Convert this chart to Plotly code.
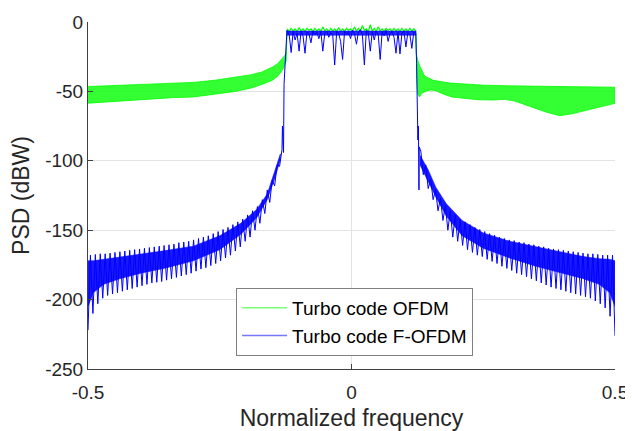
import numpy as np
import plotly.graph_objects as go

# ---------------- data ----------------
# Turbo code OFDM (green): out-of-band envelope readings (dBW)
green_left_f = [-0.5, -0.46, -0.42, -0.38, -0.34, -0.30, -0.26, -0.22, -0.19, -0.17, -0.15, -0.14, -0.13, -0.124, -0.1225]
green_left_top = [-46.5, -46, -45.5, -45, -44.5, -43.5, -42, -40, -38, -36, -32.5, -30, -26, -23, -6]
green_left_bot = [-58.5, -57.5, -56.5, -55.5, -54.5, -54, -52, -50, -47.5, -45, -42, -39, -34, -28, -9]

green_right_top_f = [0.1222, 0.123, 0.126, 0.130, 0.139, 0.155, 0.187, 0.25, 0.30, 0.40, 0.5]
green_right_top = [-6, -23, -28, -32, -39, -42, -44, -45.5, -46, -46.5, -47]
green_right_bot_f = [0.1222, 0.1235, 0.1245, 0.126, 0.129, 0.133, 0.14, 0.15, 0.16, 0.175, 0.19, 0.21, 0.24, 0.27,
                     0.29, 0.31, 0.34, 0.37, 0.395, 0.42, 0.45, 0.5]
green_right_bot = [-9, -28, -45, -52, -54, -51.5, -50, -49, -49.5, -52, -54, -55, -56, -56.2,
                   -55.7, -57, -61, -65, -67.5, -66, -63, -58.6]

# in-band PSD, f from -0.122 to 0.122
green_pass = [-5, -7, -4.5, -6.5, -5, -7, -4, -6.5, -5, -7, -4.5, -6, -5, -7, -4.5, -6.5, -5, -7, -3.5, -6.5,
              -5, -7, -4.5, -6.5, -5, -7, -4, -6.5, -5, -7, -4.5, -6, -5, -7, -3.5, -6.5, -4.5, -7, -2.5, -6,
              -5, -7, -2, -6.5, -4.5, -7, -3.5, -6.5, -5, -7, -4.5, -6, -5, -7, -4.5, -6.5, -5, -7, -4.5, -6.5,
              -5, -7, -4.5, -6.5, -5, -6.5]
blue_pass = [-6.5, -9, -22, -7, -13, -8, -21, -6.5, -10, -22.5, -7, -8.5, -15, -6.5, -9, -7.5, -12, -7, -21, -8,
             -6.5, -11, -7.5, -9, -31, -7, -8, -14, -27, -6.5, -9, -7, -12, -6, -8.5, -16, -7, -5.5, -9, -31,
             -6, -8, -21, -7, -13, -6.5, -9, -27, -7, -10, -6, -14, -8, -7, -11, -22.5, -7, -23, -8, -6.5,
             -18, -7.5, -9, -19, -7, -8]
blue_pass_body_f = [-0.1225, 0.1222]
blue_pass_body_up = [-6.5, -6.5]
blue_pass_body_lo = [-9.5, -9.5]
pass_lo, pass_hi = -0.122, 0.122

# Turbo code F-OFDM (blue): filter skirts, ripple tooth troughs / peaks (dBW)
blue_left_trough = [-222, -210, -203, -199, -197, -196, -195, -194, -193, -192, -191, -190, -189, -188, -187.5,
                    -187, -186, -185, -184, -183, -182, -181, -179.5, -178, -177, -175.5, -174, -172, -170, -168,
                    -165, -162, -158, -155, -150, -145, -138, -130, -118, -104]
blue_left_peak = [-168, -167.5, -167, -167, -166.5, -166, -165.5, -165, -164.5, -164, -163.5, -163, -162.5, -162,
                  -161.5, -161, -160.5, -160, -159, -158.5, -158, -157, -156, -155, -154, -152.5, -151, -149.5,
                  -148, -146, -144, -142, -139, -136, -133, -128, -121, -114, -103, -92]
blue_left_rise_f = [-0.131, -0.129, -0.128, -0.126, -0.124, -0.1225]
blue_left_rise = [-75, -94, -45, -27, -12, -6]

blue_right_drop_f = [0.1235, 0.125, 0.126, 0.127, 0.128, 0.1285]
blue_right_drop = [-30, -63, -85, -75, -121, -90]
blue_right_peak = [-93, -103, -113, -121, -127, -132, -136, -139, -142, -144, -146, -148, -149.5, -151, -152.5,
                   -153.5, -155, -156, -157, -157.5, -158.5, -159, -160, -160.5, -161.5, -162, -163, -163.5, -164,
                   -164.5, -165, -165.5, -166, -166.5, -167, -167, -167.5, -168, -168, -168]
blue_right_trough = [-110, -120, -128, -136, -143, -150, -155, -158, -161, -164, -166, -168, -169, -171, -172.5,
                     -174, -176, -177.5, -179, -181, -182, -183.5, -185, -186.5, -188, -189.5, -191, -192, -193,
                     -194, -195, -196, -197, -198, -199, -201, -203, -206, -212, -226]

# dense body of the blue skirts (envelopes)
blue_body_left_f = [-0.5, -0.49, -0.47, -0.44, -0.40, -0.35, -0.30, -0.25, -0.21, -0.18, -0.16, -0.145, -0.135]
blue_body_left_up = [-172, -172, -171, -169.5, -167, -164.5, -161.5, -154, -145, -135, -124, -107, -95]
blue_body_left_lo = [-205, -195, -189, -185, -181, -177, -172, -164, -153, -141, -128, -112, -99]
blue_body_right_f = [0.13, 0.145, 0.16, 0.18, 0.21, 0.25, 0.30, 0.35, 0.40, 0.44, 0.47, 0.49, 0.5]
blue_body_right_up = [-96, -106, -119, -131, -143, -152, -158, -162, -166, -169, -170.5, -171, -172]
blue_body_right_lo = [-103, -115, -126, -140, -154, -163, -170, -176, -181, -185, -189, -195, -205]

x_ticks = [-0.5, 0, 0.5]
x_tick_text = ["-0.5", "0", "0.5"]
y_ticks = [0, -50, -100, -150, -200, -250]
y_tick_text = ["0", "-50", "-100", "-150", "-200", "-250"]
names = ["Turbo code OFDM", "Turbo code F-OFDM"]

# ---------------- figure ----------------
GREEN = "#00ff00"
BLUE = "#0000ff"
FONT = "Liberation Sans, Arial, Helvetica, sans-serif"

fig = go.Figure()

# legend entries (lighter line samples as in the reference)
fig.add_trace(go.Scatter(x=[None], y=[None], mode="lines", name=names[0],
                         line=dict(color="#77ff77", width=1.5), showlegend=True))
fig.add_trace(go.Scatter(x=[None], y=[None], mode="lines", name=names[1],
                         line=dict(color="#7777ff", width=1.5), showlegend=True))

# green bands
fig.add_trace(go.Scatter(x=green_left_f + green_left_f[::-1], y=green_left_top + green_left_bot[::-1],
                         mode="lines", fill="toself", fillcolor="rgba(0,255,0,0.8)",
                         line=dict(color=GREEN, width=0.8), showlegend=False, hoverinfo="skip"))
fig.add_trace(go.Scatter(x=green_right_top_f + green_right_bot_f[::-1], y=green_right_top + green_right_bot[::-1],
                         mode="lines", fill="toself", fillcolor="rgba(0,255,0,0.8)",
                         line=dict(color=GREEN, width=0.8), showlegend=False, hoverinfo="skip"))
pass_f_g = list(np.linspace(pass_lo, pass_hi, len(green_pass)))
fig.add_trace(go.Scatter(x=pass_f_g, y=green_pass, mode="lines", line=dict(color=GREEN, width=1.2),
                         showlegend=False))

# blue body fills
fig.add_trace(go.Scatter(x=blue_body_left_f + blue_body_left_f[::-1],
                         y=blue_body_left_up + blue_body_left_lo[::-1],
                         mode="lines", fill="toself", fillcolor="rgba(0,0,255,0.9)",
                         line=dict(color=BLUE, width=0.5), showlegend=False, hoverinfo="skip"))
fig.add_trace(go.Scatter(x=blue_body_right_f + blue_body_right_f[::-1],
                         y=blue_body_right_up + blue_body_right_lo[::-1],
                         mode="lines", fill="toself", fillcolor="rgba(0,0,255,0.9)",
                         line=dict(color=BLUE, width=0.5), showlegend=False, hoverinfo="skip"))
fig.add_trace(go.Scatter(x=blue_pass_body_f + blue_pass_body_f[::-1],
                         y=blue_pass_body_up + blue_pass_body_lo[::-1],
                         mode="lines", fill="toself", fillcolor="rgba(0,0,255,0.85)",
                         line=dict(color=BLUE, width=0.5), showlegend=False, hoverinfo="skip"))

# blue ripple line
n_l = len(blue_left_peak)
lt_f = np.linspace(-0.5, -0.1365, n_l)
lp_f = lt_f + 0.0046
left_x, left_y = [], []
for i in range(n_l):
    left_x += [lt_f[i], lp_f[i]]
    left_y += [blue_left_trough[i], blue_left_peak[i]]
n_r = len(blue_right_peak)
rp_f = np.linspace(0.1315, 0.4953, n_r)
rt_f = rp_f + 0.0047
right_x, right_y = [], []
for i in range(n_r):
    right_x += [rp_f[i], rt_f[i]]
    right_y += [blue_right_peak[i], blue_right_trough[i]]
pass_f_b = list(np.linspace(pass_lo, pass_hi, len(blue_pass)))
bx = left_x + blue_left_rise_f + pass_f_b + blue_right_drop_f + right_x
by = left_y + blue_left_rise + blue_pass + blue_right_drop + right_y
fig.add_trace(go.Scatter(x=bx, y=by, mode="lines", line=dict(color=BLUE, width=1), showlegend=False))

axis_common = dict(
    showgrid=True, gridcolor="#e3e3e3", gridwidth=1, zeroline=False,
    showline=True, linecolor="#404040", linewidth=1,
    ticks="inside", ticklen=5, tickcolor="#404040", tickwidth=1,
    tickfont=dict(family=FONT, size=19, color="#262626"),
)
fig.update_xaxes(range=[-0.5, 0.5], tickvals=x_ticks, ticktext=x_tick_text,
                 title=dict(text="Normalized frequency", font=dict(family=FONT, size=23, color="#262626"),
                            standoff=23),
                 ticklabelstandoff=6, **axis_common)
fig.update_yaxes(range=[-250, 0], tickvals=y_ticks, ticktext=y_tick_text,
                 title=dict(text="PSD (dBW)", font=dict(family=FONT, size=23, color="#262626"),
                            standoff=10),
                 ticklabelstandoff=0, **axis_common)

# page body has an 8px margin: figure sized to fit the 633x431 window
fig.update_layout(
    width=625, height=423,
    margin=dict(l=80, r=18, t=14, b=62, autoexpand=False),
    paper_bgcolor="white", plot_bgcolor="white",
    font=dict(family=FONT, color="#262626"),
    legend=dict(x=0.281, y=0.2334, xanchor="left", yanchor="top",
                bgcolor="white", bordercolor="#808080", borderwidth=1,
                font=dict(family=FONT, size=19, color="#000000"),
                itemwidth=45, tracegroupgap=0),
    showlegend=True,
)

fig.write_html("out.html")
